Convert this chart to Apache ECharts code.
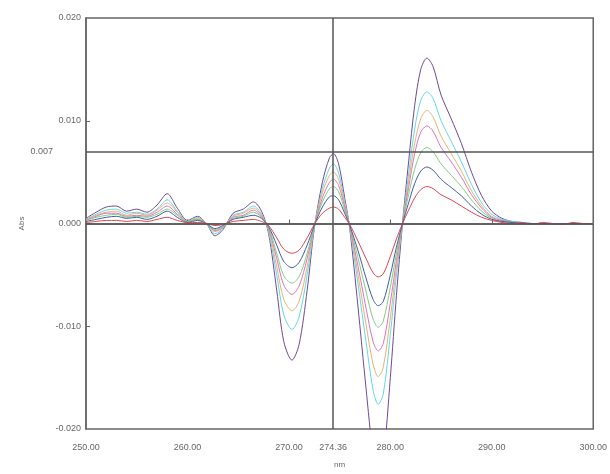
<!DOCTYPE html>
<html>
<head>
<meta charset="utf-8">
<script src="https://cdn.jsdelivr.net/npm/echarts@6/dist/echarts.min.js"></script>
<style>html,body{margin:0;padding:0;background:#fff}#c{width:610px;height:474px}</style>
</head>
<body>
<div id="c"></div>
<script>
// wavelengths (nm)
var wavelengths = [250,251,252,253,254,255,256,257,258,259,260,261,262,262.7,263.5,264.5,265.5,266.5,267.3,
  268,268.8,269.5,270.3,271,271.8,272.5,
  273.3,274,274.4,274.9,275.5,
  276,276.8,277.6,278.3,278.8,279.3,280,280.6,281.2,
  281.8,282.4,283,283.6,284.2,285,286,287,288,289,290,291,292,293,294,295,296,297,298,299,300];

var purpleVals = [0.0005,0.0011,0.0016,0.0017,0.0012,0.0014,0.0011,0.0018,0.0029,0.0015,0.0003,0.0007,-0.0002,-0.0012,-0.0006,0.0010,0.0014,0.0021,0.0012,
  -0.0010,-0.0065,-0.0115,-0.0133,-0.0118,-0.0065,-0.0005,
  0.0040,0.0064,0.0068,0.0058,0.0025,
  -0.0005,-0.0080,-0.0160,-0.0225,-0.0245,-0.0230,-0.0150,-0.0070,0.0000,
  0.0060,0.0115,0.0150,0.0161,0.0153,0.0125,0.0102,0.0078,0.0050,0.0027,0.0012,0.0005,0.0002,0.0001,0,0,0,0,0,0,0];

var cyanVals = [0.0004,0.0009,0.0013,0.0014,0.0010,0.0011,0.0009,0.0014,0.0023,0.0012,0.0002,0.0006,-0.0002,-0.0010,-0.0005,0.0008,0.0011,0.0017,0.0009,
  -0.0008,-0.0050,-0.0089,-0.0103,-0.0091,-0.0050,-0.0004,
  0.0034,0.0054,0.0058,0.0049,0.0021,
  -0.0004,-0.0058,-0.0115,-0.0162,-0.0176,-0.0166,-0.0108,-0.0050,0.0000,
  0.0048,0.0092,0.0120,0.0128,0.0122,0.0100,0.0080,0.0060,0.0038,0.0020,0.0009,0.0004,0.0002,0.0001,0,0,0,0,0,0,0];

var orangeVals = [0.0004,0.0008,0.0011,0.0012,0.0008,0.0010,0.0008,0.0013,0.0020,0.0011,0.0002,0.0005,-0.0001,-0.0008,-0.0004,0.0007,0.0010,0.0015,0.0008,
  -0.0006,-0.0042,-0.0074,-0.0085,-0.0076,-0.0042,-0.0003,
  0.0030,0.0047,0.0050,0.0043,0.0019,
  -0.0003,-0.0049,-0.0098,-0.0137,-0.0149,-0.0140,-0.0092,-0.0043,0.0000,
  0.0041,0.0078,0.0102,0.0110,0.0104,0.0085,0.0068,0.0051,0.0032,0.0017,0.0007,0.0003,0.0001,0,0,0,0,0,0,0,0];

var pinkVals = [0.0003,0.0007,0.0010,0.0010,0.0007,0.0008,0.0007,0.0011,0.0017,0.0009,0.0002,0.0004,-0.0001,-0.0007,-0.0004,0.0006,0.0008,0.0013,0.0007,
  -0.0005,-0.0034,-0.0060,-0.0069,-0.0061,-0.0034,-0.0003,
  0.0025,0.0040,0.0043,0.0037,0.0016,
  -0.0003,-0.0041,-0.0082,-0.0115,-0.0124,-0.0117,-0.0077,-0.0036,0.0000,
  0.0035,0.0068,0.0089,0.0095,0.0090,0.0074,0.0060,0.0045,0.0028,0.0015,0.0006,0.0003,0.0001,0,0,0,0,0,0,0,0];

var greenVals = [0.0003,0.0006,0.0008,0.0009,0.0006,0.0007,0.0006,0.0009,0.0014,0.0008,0.0002,0.0004,-0.0001,-0.0006,-0.0003,0.0005,0.0007,0.0011,0.0006,
  -0.0004,-0.0029,-0.0051,-0.0058,-0.0052,-0.0029,-0.0002,
  0.0021,0.0034,0.0036,0.0031,0.0013,
  -0.0002,-0.0033,-0.0066,-0.0093,-0.0101,-0.0095,-0.0062,-0.0029,0.0000,
  0.0028,0.0053,0.0069,0.0074,0.0070,0.0058,0.0047,0.0036,0.0023,0.0012,0.0005,0.0002,0.0001,0,0,0,0,0,0,0,0];

var blueVals = [0.0002,0.0004,0.0006,0.0007,0.0005,0.0006,0.0004,0.0007,0.0012,0.0006,0.0001,0.0003,-0.0001,-0.0005,-0.0002,0.0004,0.0006,0.0008,0.0005,
  -0.0003,-0.0021,-0.0037,-0.0043,-0.0038,-0.0021,-0.0002,
  0.0016,0.0026,0.0027,0.0023,0.0010,
  -0.0002,-0.0026,-0.0053,-0.0074,-0.0080,-0.0076,-0.0050,-0.0023,0.0000,
  0.0020,0.0039,0.0051,0.0055,0.0052,0.0043,0.0035,0.0027,0.0017,0.0009,0.0004,0.0002,0.0001,0,0,0,0,0,0,0,0];

var redVals = [0.0001,0.0002,0.0003,0.0003,0.0002,0.0003,0.0002,0.0004,0.0006,0.0003,0.0001,0.0001,0,-0.0002,-0.0001,0.0002,0.0003,0.0004,0.0002,
  -0.0002,-0.0014,-0.0025,-0.0029,-0.0026,-0.0014,-0.0001,
  0.0010,0.0015,0.0016,0.0014,0.0006,
  -0.0001,-0.0017,-0.0034,-0.0048,-0.0052,-0.0049,-0.0032,-0.0015,0.0000,
  0.0013,0.0025,0.0033,0.0036,0.0034,0.0028,0.0023,0.0017,0.0011,0.0006,0.0003,0.0001,0,0.0001,-0.0001,0.0001,0,-0.0001,0.0001,0,0];

var xTickLabels = [250, 260, 270, 274.36, 280, 290, 300];
var xTicks = [260, 270, 280, 290];
var yTicks = [-0.02, -0.01, 0, 0.01, 0.02];
var cursorX = 274.36;
var cursorY = 0.007;

var seriesList = [
  {name: 'purple', vals: purpleVals, color: '#6e4a96'},
  {name: 'cyan', vals: cyanVals, color: '#66d6ea'},
  {name: 'orange', vals: orangeVals, color: '#e8b46e'},
  {name: 'pink', vals: pinkVals, color: '#dd74bf'},
  {name: 'green', vals: greenVals, color: '#7fcf80'},
  {name: 'blue', vals: blueVals, color: '#3f5ea3'},
  {name: 'red', vals: redVals, color: '#e0454e'}
];

function pairs(v) { return wavelengths.map(function (x, i) { return [x, v[i]]; }); }

var series = seriesList.map(function (s) {
  return {
    type: 'line', name: s.name, data: pairs(s.vals), showSymbol: false, symbol: 'none',
    smooth: 0.3, lineStyle: {color: s.color, width: 1}, silent: true, animation: false, z: 2
  };
});

series.push({
  type: 'line', data: [], silent: true, animation: false, z: 5,
  markLine: {
    symbol: 'none', silent: true, animation: false, precision: 4,
    lineStyle: {color: '#555', width: 1.5, type: 'solid'},
    data: [
      {xAxis: cursorX, label: {show: false}},
      {yAxis: cursorY, label: {show: true, position: 'start', formatter: cursorY.toFixed(3), distance: 33, color: '#666', fontSize: 9, fontFamily: 'Liberation Sans'}},
      {yAxis: 0, label: {show: false}}
    ]
  }
});

var chart = echarts.init(document.getElementById('c'), null, {renderer: 'canvas'});
chart.setOption({
  animation: false,
  backgroundColor: '#fff',
  grid: {left: 86, right: 15, top: 18, bottom: 37, show: true, borderColor: '#666', borderWidth: 1.5, backgroundColor: 'transparent'},
  xAxis: {
    type: 'value', min: 250, max: 300,
    name: 'nm', nameLocation: 'middle', nameGap: 32,
    nameTextStyle: {color: '#666', fontSize: 8, fontFamily: 'Liberation Sans'},
    axisLine: {show: true, lineStyle: {color: '#666', width: 1.5}},
    axisTick: {show: true, inside: true, length: 4, customValues: xTicks, lineStyle: {color: '#666'}},
    axisLabel: {customValues: xTickLabels, formatter: function (v) { return v.toFixed(2); }, color: '#666', fontSize: 9, fontFamily: 'Liberation Sans', margin: 14},
    splitLine: {show: false}
  },
  yAxis: {
    type: 'value', min: -0.02, max: 0.02, interval: 0.01,
    name: 'Abs', nameLocation: 'middle', nameGap: 60, nameRotate: 90,
    nameTextStyle: {color: '#666', fontSize: 8, fontFamily: 'Liberation Sans'},
    axisLine: {show: true, lineStyle: {color: '#666', width: 1.5}},
    axisTick: {show: true, inside: true, length: 4, customValues: [-0.01, 0, 0.01], lineStyle: {color: '#666'}},
    axisLabel: {customValues: yTicks, formatter: function (v) { return v.toFixed(3); }, color: '#666', fontSize: 9, fontFamily: 'Liberation Sans', margin: 5},
    splitLine: {show: false}
  },
  series: series
});
</script>
</body>
</html>
